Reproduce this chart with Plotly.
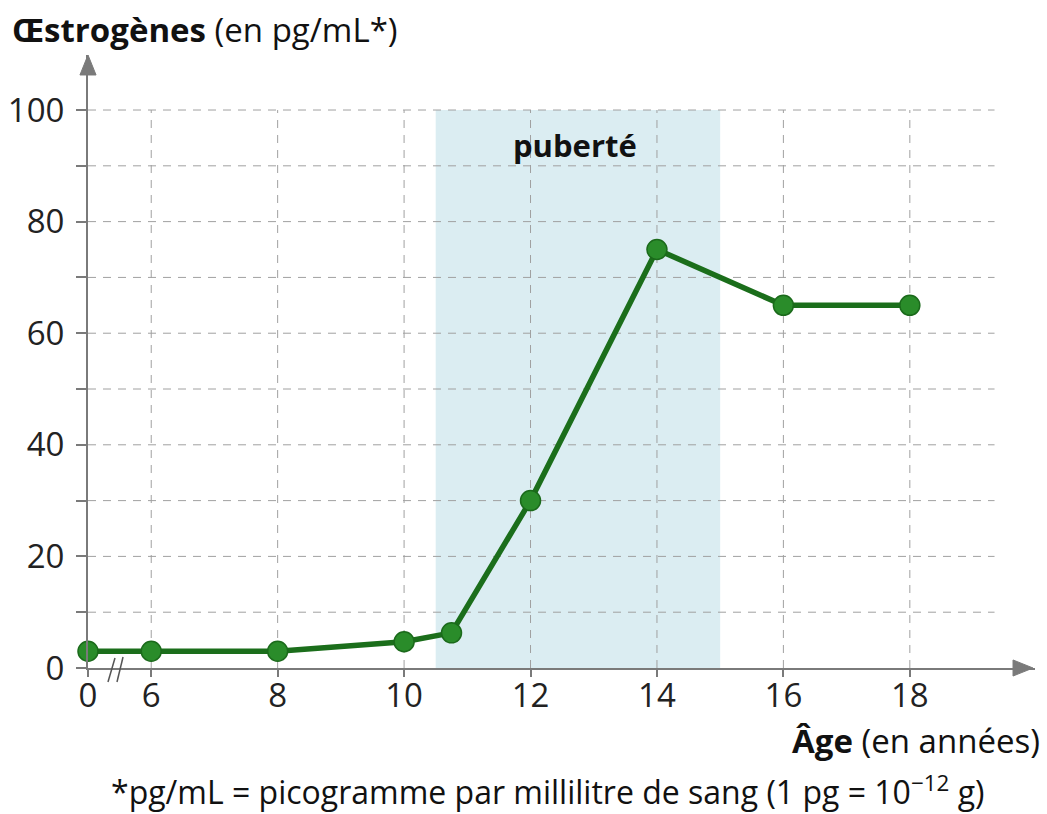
import plotly.graph_objects as go

# ---- data ----
ages = [0, 6, 8, 10, 10.75, 12, 14, 16, 18]
estrogens = [3, 3, 3, 4.7, 6.3, 30, 75, 65, 65]
tick_ages = [0, 6, 8, 10, 12, 14, 16, 18]
tick_labels = ["0", "6", "8", "10", "12", "14", "16", "18"]
y_ticks = [0, 20, 40, 60, 80, 100]
y_minor_ticks = [10, 30, 50, 70, 90]
grid_y = [10, 20, 30, 40, 50, 60, 70, 80, 90, 100]
grid_ages = [6, 8, 10, 12, 14, 16, 18]
puberty = [10.5, 15]


def pos(a):
    # broken axis: 0 -> 5, then linear from 6 onwards
    return a if a >= 6 else 5 + a / 6.0


FONT = "Open Sans"
GRID = "#a0a0a0"
AXIS = "#7a7a7a"

X_RANGE = [5, 19.98]
Y_RANGE = [0, 109.86]

fig = go.Figure()
fig.add_trace(go.Scatter(
    x=[pos(a) for a in ages], y=estrogens,
    mode="lines+markers",
    line=dict(color="#1b6e1b", width=5.5),
    marker=dict(size=20, color="#2a8c2a", line=dict(color="#1b6a1b", width=1.5)),
    cliponaxis=False, showlegend=False, hoverinfo="skip",
))

shapes = []
# puberty band
shapes.append(dict(type="rect", xref="x", yref="y", x0=pos(puberty[0]), x1=pos(puberty[1]),
                   y0=0, y1=100, fillcolor="#dbedf2", line=dict(width=0), layer="below"))
# horizontal grid
for gy in grid_y:
    shapes.append(dict(type="line", xref="x", yref="y", x0=5, x1=19.34, y0=gy, y1=gy,
                       line=dict(color=GRID, width=1, dash="8px,7px"), layer="below"))
# vertical grid
for ga in grid_ages:
    shapes.append(dict(type="line", xref="x", yref="y", x0=pos(ga), x1=pos(ga), y0=0, y1=100,
                       line=dict(color=GRID, width=1, dash="8px,7px"), layer="below"))
# arrowheads (paper coords so they are not clipped)
shapes.append(dict(type="path", xref="paper", yref="paper",
                   path="M 0.9768 -0.0131 L 0.9979 0 L 0.9768 0.0131 Z",
                   fillcolor=AXIS, line=dict(color=AXIS, width=1)))
shapes.append(dict(type="path", xref="paper", yref="paper",
                   path="M -0.0085 0.9674 L 0 1.0 L 0.0085 0.9674 Z",
                   fillcolor=AXIS, line=dict(color=AXIS, width=1)))
# axis break marks
for x0, x1, y1 in [(0.0211, 0.0285, 0.0163), (0.0306, 0.0370, 0.0179)]:
    shapes.append(dict(type="line", xref="paper", yref="paper", x0=x0, x1=x1, y0=-0.0228, y1=y1,
                       line=dict(color="#555555", width=1.5)))

annotations = [
    dict(xref="paper", yref="paper", x=-0.0824, y=1.041, xanchor="left", yanchor="middle",
         text="<b>Œstrogènes</b> (en pg/mL*)", showarrow=False,
         font=dict(family=FONT, size=33, color="#111111")),
    dict(xref="x", yref="y", x=12.70, y=93.7, xanchor="center", yanchor="middle",
         text="<b>puberté</b>", showarrow=False,
         font=dict(family=FONT, size=31, color="#111111")),
    dict(xref="paper", yref="paper", x=1.007, y=-0.1175, xanchor="right", yanchor="middle",
         text="<b>Âge</b> (en années)", showarrow=False,
         font=dict(family=FONT, size=33, color="#111111")),
    dict(xref="paper", yref="paper", x=0.485, y=-0.199, xanchor="center", yanchor="middle",
         text="*pg/mL = picogramme par millilitre de sang (1 pg = 10<sup>−12</sup> g)",
         showarrow=False, font=dict(family=FONT, size=32, color="#111111")),
]

fig.update_layout(
    width=1047, height=814,
    margin=dict(l=88, r=12, t=55, b=146),
    paper_bgcolor="white", plot_bgcolor="white",
    shapes=shapes, annotations=annotations,
    xaxis=dict(range=X_RANGE, tickmode="array", automargin=False,
               tickvals=[pos(a) for a in tick_ages], ticktext=tick_labels,
               showgrid=False, zeroline=False, showline=True, linecolor=AXIS, linewidth=2,
               ticks="outside", ticklen=7, tickcolor=AXIS, tickwidth=1.5,
               ticklabelstandoff=-10,
               tickfont=dict(family=FONT, size=33, color="#222222")),
    yaxis=dict(range=Y_RANGE, tickmode="array", tickvals=y_ticks, automargin=False,
               minor=dict(tickmode="array", tickvals=y_minor_ticks, ticks="outside",
                          ticklen=10, tickcolor=AXIS, tickwidth=1.5, showgrid=False),
               showgrid=False, zeroline=False, showline=True, linecolor=AXIS, linewidth=2,
               ticks="outside", ticklen=10, tickcolor=AXIS, tickwidth=1.5,
               ticklabelstandoff=5,
               tickfont=dict(family=FONT, size=33, color="#222222")),
)

fig.write_html("out.html", config={"displayModeBar": False},
               post_script="document.body.style.margin='0';")
